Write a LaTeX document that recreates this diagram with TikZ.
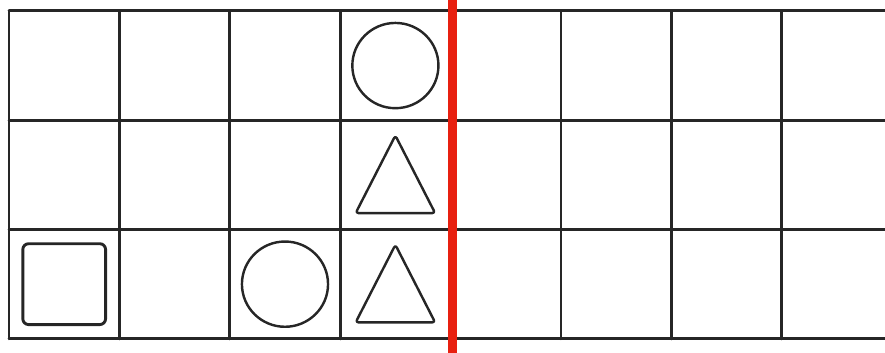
\documentclass[tikz,border=0pt]{standalone}
\usetikzlibrary{positioning}
\definecolor{cutred}{HTML}{E82010}
\begin{document}
\begin{tikzpicture}[x=2cm, y=1.98cm, line cap=round, line join=round]
  \tikzset{
    gridline/.style={line width=1.5pt, black!85},
    outline/.style={line width=1.25pt, black!85},
    cutline/.style={line width=4.6pt, cutred, line cap=butt},
    ring/.pic={\draw[outline] (0,0) circle[radius=0.39];},
    tri/.pic={\draw[outline, rounded corners=1.5pt] (-0.36,-0.35) -- (0.36,-0.35) -- (0,0.36) -- cycle;},
    box/.pic={\draw[outline, line width=1.5pt, rounded corners=3pt] (-0.375,-0.37) rectangle (0.375,0.37);}
  }
  \clip (-0.0815,-0.128) rectangle (7.935,3.1);
  % board
  \foreach \r in {0,...,3}
    \draw[gridline] (0,\r) -- (8.5,\r);
  \foreach \c in {0,...,8}
    \draw[gridline] (\c,0) -- (\c,3);
  % pieces
  \pic at (3.5,2.5) {ring};
  \pic at (3.5,1.5) {tri};
  \pic at (0.5,0.5) {box};
  \pic at (2.5,0.5) {ring};
  \pic at (3.5,0.5) {tri};
  % cut
  \draw[cutline] (4.02,-0.3) -- (4.02,3.3);
\end{tikzpicture}
\end{document}
